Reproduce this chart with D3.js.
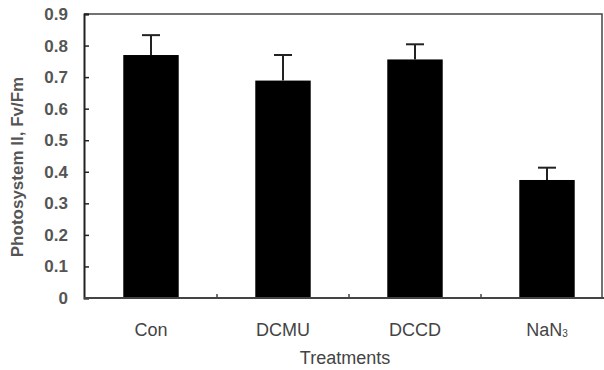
<!DOCTYPE html>
<html>
<head>
<meta charset="utf-8">
<script src="https://cdn.jsdelivr.net/npm/d3@7"></script>
<style>
  body { margin: 0; background: #fff; }
  text { font-family: "Liberation Sans", Arial, sans-serif; }
</style>
</head>
<body>
<svg width="604" height="370"></svg>
<script>
var categories = ["Con", "DCMU", "DCCD", "NaN3"];
var means = [0.770, 0.689, 0.756, 0.374];
var errors = [0.063, 0.081, 0.048, 0.039];
var yTicks = [0, 0.1, 0.2, 0.3, 0.4, 0.5, 0.6, 0.7, 0.8, 0.9];

let svg = d3.select("svg");
let margin = {top: 14, left: 84, bottom: 298, right: 602};

var x = d3.scaleBand()
    .domain(categories)
    .range([margin.left + 1, margin.left + 1 + 132 * categories.length])
    .paddingInner(0.58)
    .paddingOuter(0.29);

var y = d3.scaleLinear()
    .domain([0, 0.9])
    .range([margin.bottom, margin.top]);

var ink = "#222";

// frame (top and right)
svg.append("path")
  .attr("d", "M" + margin.left + "," + margin.top + "H" + margin.right + "V" + margin.bottom)
  .attr("fill", "none")
  .attr("stroke", "#444")
  .attr("stroke-width", 1.5);

// bars
svg.selectAll(".bar")
  .data(categories)
  .enter().append("rect")
  .attr("class", "bar")
  .attr("x", function(d) { return x(d); })
  .attr("width", x.bandwidth())
  .attr("y", function(d, i) { return y(means[i]); })
  .attr("height", function(d, i) { return y(0) - y(means[i]); })
  .attr("fill", "#000");

// error bars
var eb = svg.selectAll(".err")
  .data(categories)
  .enter().append("g")
  .attr("class", "err")
  .attr("transform", function(d) { return "translate(" + (x(d) + x.bandwidth() / 2) + ",0)"; });
eb.append("line")
  .attr("y1", function(d, i) { return y(means[i]); })
  .attr("y2", function(d, i) { return y(means[i] + errors[i]); })
  .attr("stroke", ink).attr("stroke-width", 2);
eb.append("line")
  .attr("x1", -9).attr("x2", 9)
  .attr("y1", function(d, i) { return y(means[i] + errors[i]); })
  .attr("y2", function(d, i) { return y(means[i] + errors[i]); })
  .attr("stroke", ink).attr("stroke-width", 2);

// y axis
var yAxis = svg.append("g")
  .attr("transform", "translate(" + margin.left + ",0)")
  .call(d3.axisLeft(y).tickValues(yTicks).tickSize(-5).tickPadding(16)
    .tickFormat(function(d) { return d === 0 ? "0" : d3.format(".1f")(d); }));
yAxis.select(".domain").attr("stroke", ink).attr("stroke-width", 2);
yAxis.selectAll(".tick line").attr("stroke", ink).attr("stroke-width", 1.5);
yAxis.selectAll(".tick text")
  .attr("font-size", "17px")
  .attr("font-weight", "bold")
  .attr("fill", "#555")
  .style("font-family", "'Liberation Sans', Arial, sans-serif");

// x axis baseline
svg.append("line")
  .attr("x1", margin.left).attr("x2", 604)
  .attr("y1", y(0)).attr("y2", y(0))
  .attr("stroke", "#444").attr("stroke-width", 2);

// small ticks between categories
svg.selectAll(".xtick")
  .data(categories.slice(1))
  .enter().append("line")
  .attr("class", "xtick")
  .attr("x1", function(d) { return x(d) - x.step() * x.paddingInner() / 2; })
  .attr("x2", function(d) { return x(d) - x.step() * x.paddingInner() / 2; })
  .attr("y1", y(0)).attr("y2", y(0) - 4)
  .attr("stroke", "#444").attr("stroke-width", 1.5);

// category labels
var labels = svg.selectAll(".cat")
  .data(categories)
  .enter().append("text")
  .attr("class", "cat")
  .attr("x", function(d) { return x(d) + x.bandwidth() / 2; })
  .attr("y", 336)
  .attr("text-anchor", "middle")
  .attr("font-size", "18px")
  .attr("fill", "#444");
labels.each(function(d) {
  var t = d3.select(this);
  if (d === "NaN3") {
    t.append("tspan").text("NaN");
    t.append("tspan").text("3").attr("font-size", "10px").attr("dy", 1);
  } else {
    t.text(d);
  }
});

// axis titles
svg.append("text")
  .text("Treatments")
  .attr("x", 345).attr("y", 364)
  .attr("text-anchor", "middle")
  .attr("font-size", "18px")
  .attr("fill", "#444");

svg.append("text")
  .text("Photosystem II, Fv/Fm")
  .attr("text-anchor", "middle")
  .attr("font-size", "17px")
  .attr("font-weight", "bold")
  .attr("fill", "#555")
  .attr("transform", "translate(23,167) rotate(-90)");
</script>
</body>
</html>
